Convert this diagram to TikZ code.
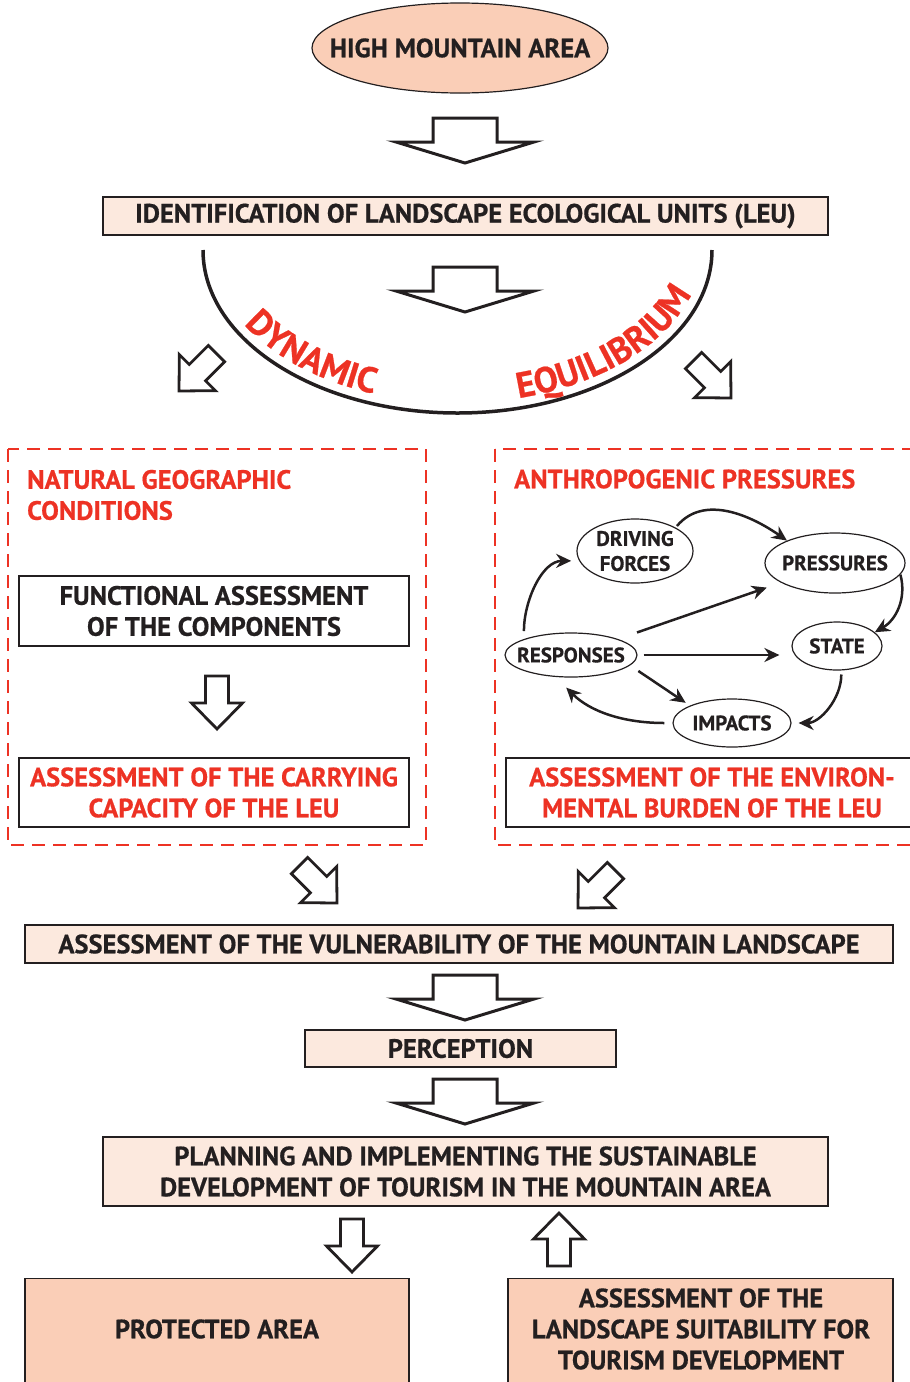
\documentclass[tikz,border=0pt]{standalone}
\usepackage{fontspec}
\setmainfont{PT Sans}[BoldFeatures={FakeBold=0.6}]
\usetikzlibrary{arrows.meta,shapes.geometric,decorations.text,calc}

\definecolor{ink}{RGB}{35,31,32}
\definecolor{redc}{RGB}{237,50,36}
\definecolor{peach}{RGB}{250,206,183}
\definecolor{lightpeach}{RGB}{252,233,222}

\newcommand\arcfont{\fontsize{36}{36}\selectfont\bfseries}

\tikzset{
  lbl/.style={font=\fontsize{26.5}{31}\selectfont\bfseries, text=ink, align=center, inner sep=0pt},
  redlbl/.style={lbl, text=redc},
  boxbase/.style={draw=ink, line width=1.2pt, inner sep=0pt},
  lightbox/.style={boxbase, fill=lightpeach},
  plainbox/.style={boxbase, fill=white},
  peachbox/.style={boxbase, fill=peach},
  dashbox/.style={draw=redc, line width=2pt, dash pattern=on 13pt off 8pt},
  cycnode/.style={ellipse, draw=ink, line width=1.2pt, inner sep=0pt},
  cyctext/.style={font=\fontsize{21}{25}\selectfont\bfseries, text=ink, align=center, inner sep=0pt},
  cyc/.style={draw=ink, line width=2.5pt, -{Stealth[length=15pt,width=14pt]}},
  arrowline/.style={draw=ink, line width=3pt, fill=white, miter limit=20},
  bigarrow/.pic={\path[arrowline] (0,0) -- (-69,21) -- (-32,21) -- (-32,45) -- (32,45) -- (32,21) -- (69,21) -- cycle;},
  smallarrow/.pic={\path[arrowline, line width=2.8pt] (0,0) -- (-25.5,26) -- (-11.5,26) -- (-11.5,53) -- (11.5,53) -- (11.5,26) -- (25.5,26) -- cycle;}
}

\begin{document}
\begin{tikzpicture}[x=1pt,y=1pt]
\useasboundingbox (0,0) rectangle (910,-1382);

% top of the scheme
\node[cycnode, fill=peach, minimum width=296pt, minimum height=90pt] (top) at (460,-48) {};
\node[lbl] (toptext) at (top) {HIGH MOUNTAIN AREA};
\pic at (465,-163) {bigarrow};

\node[lightbox, lbl, minimum width=725pt, minimum height=38pt] (ident) at (465.5,-216)
  {IDENTIFICATION OF LANDSCAPE ECOLOGICAL UNITS (LEU)};

% dynamic equilibrium bowl
\draw[ink, line width=3.5pt] (203,-250) arc[start angle=180, end angle=360, x radius=254.5, y radius=163];
\pic at (465,-312) {bigarrow};
\begin{scope}[transform canvas={shift={(457.5,-250)}}]
\path[decorate, decoration={text along path, text color=redc, text={|\arcfont|DYNAMIC}}]
  plot[domain=29:90, samples=60] ({-244*cos(\x)},{-153*sin(\x)});
\path[decorate, decoration={text along path, text color=redc, text={|\arcfont|EQUILIBRIUM}}]
  plot[domain=104.5:179, samples=70] ({-244*cos(\x)},{-153*sin(\x)});
\end{scope}
\pic[rotate=-45] at (179,-391) {smallarrow};
\pic[rotate=45] at (731,-398) {smallarrow};

% natural conditions
\draw[dashbox] (8,-449) rectangle (426,-845);
\node[redlbl, anchor=west, align=left] (nat) at (27,-495) {NATURAL GEOGRAPHIC\\CONDITIONS};
\node[plainbox, lbl, minimum width=390pt, minimum height=70pt] (func) at (214,-611)
  {FUNCTIONAL ASSESSMENT\\OF THE COMPONENTS};
\pic at (217,-729) {smallarrow};
\node[plainbox, redlbl, minimum width=390pt, minimum height=69pt] (carry) at (214,-792.5)
  {ASSESSMENT OF THE CARRYING\\CAPACITY OF THE LEU};

% anthropogenic pressures (DPSIR)
\draw[dashbox] (495,-449) rectangle (918,-845);
\node[redlbl, anchor=west] (anth) at (514,-479) {ANTHROPOGENIC PRESSURES};

\node[cycnode, minimum width=116pt, minimum height=64pt] (drv) at (635,-551) {};
\node[cyctext] (drvt) at (drv) {DRIVING\\FORCES};
\node[cycnode, minimum width=140pt, minimum height=60pt] (prs) at (835,-563) {};
\node[cyctext] (prst) at (prs) {PRESSURES};
\node[cycnode, minimum width=90pt, minimum height=48pt] (sta) at (837,-646) {};
\node[cyctext] (stat) at (sta) {STATE};
\node[cycnode, minimum width=132pt, minimum height=44pt] (rsp) at (571,-655) {};
\node[cyctext] (rspt) at (rsp) {RESPONSES};
\node[cycnode, minimum width=118pt, minimum height=48pt] (imp) at (732,-723) {};
\node[cyctext] (impt) at (imp) {IMPACTS};

\draw[cyc, shorten <=2pt] (drv.30) to[out=50, in=145] (prs.155);
\draw[cyc] (prs.-10) to[out=-75, in=30] (sta.20);
\draw[cyc, shorten <=4pt, shorten >=7pt] (sta.-80) to[out=-90, in=0] (imp.0);
\draw[cyc, shorten <=8pt, shorten >=15pt] (imp.180) to[out=180, in=-45] (rsp.-125);
\draw[cyc, shorten <=8pt, shorten >=8pt] (rsp.north west) to[out=90, in=180] (drv.190);
\draw[cyc, shorten <=20pt, shorten >=15pt] (rsp.north east) -- (prs.200);
\draw[cyc, shorten <=6pt, shorten >=12pt] (rsp.east) -- (rsp.east -| sta.west);
\draw[cyc, shorten <=10pt, shorten >=5pt] (rsp.-10) -- (imp.north west);

\node[plainbox, redlbl, minimum width=412pt, minimum height=69pt] (envir) at (712,-792.5)
  {ASSESSMENT OF THE ENVIRON-\\MENTAL BURDEN OF THE LEU};

% synthesis
\pic[rotate=45] at (337,-903) {smallarrow};
\pic[rotate=-45] at (578,-908) {smallarrow};
\node[lightbox, lbl, minimum width=868pt, minimum height=38pt] (vuln) at (459,-944)
  {ASSESSMENT OF THE VULNERABILITY OF THE MOUNTAIN LANDSCAPE};
\pic at (465,-1020) {bigarrow};
\node[lightbox, lbl, minimum width=311pt, minimum height=37pt] (perc) at (460.5,-1048.5) {PERCEPTION};
\pic at (465,-1124) {bigarrow};
\node[lightbox, lbl, minimum width=725pt, minimum height=69pt] (plan) at (465.5,-1171.5)
  {PLANNING AND IMPLEMENTING THE SUSTAINABLE\\DEVELOPMENT OF TOURISM IN THE MOUNTAIN AREA};

% outcomes
\pic at (352,-1272) {smallarrow};
\pic[rotate=180] at (559,-1213) {smallarrow};
\node[peachbox, minimum width=384pt, minimum height=130pt, anchor=north] (prot) at (217,-1278) {};
\node[lbl] (prott) at (217,-1329) {PROTECTED AREA};
\node[peachbox, minimum width=385pt, minimum height=130pt, anchor=north] (suit) at (700.5,-1278) {};
\node[lbl] (suitt) at (701,-1329) {ASSESSMENT OF THE\\LANDSCAPE SUITABILITY FOR\\TOURISM DEVELOPMENT};
\end{tikzpicture}
\end{document}
